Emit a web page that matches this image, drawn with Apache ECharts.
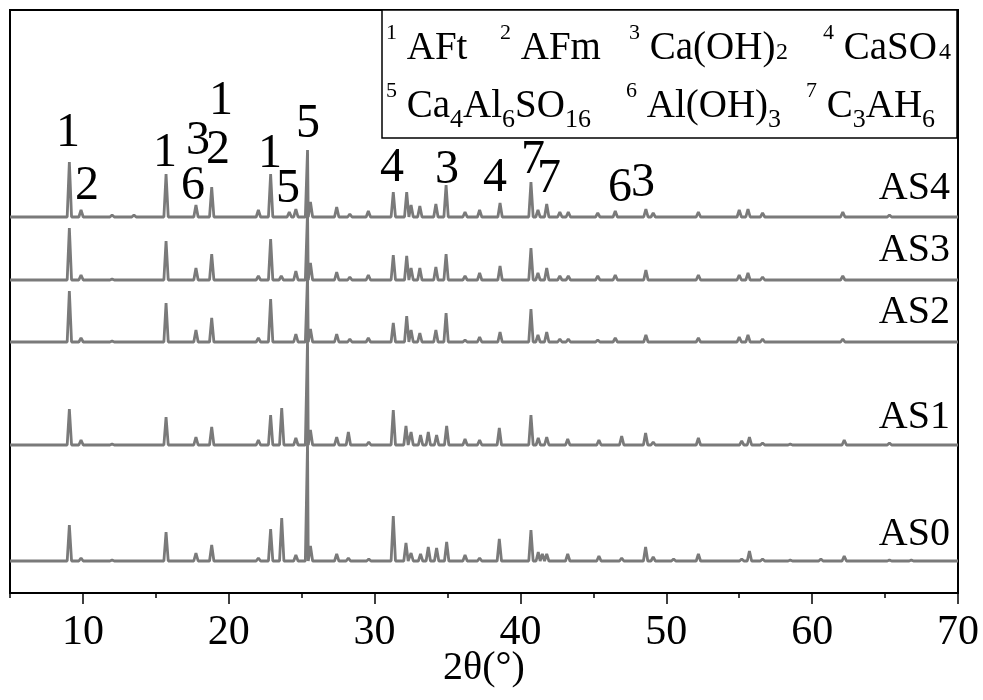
<!DOCTYPE html>
<html><head><meta charset="utf-8">
<script src="https://cdn.jsdelivr.net/npm/echarts@6/dist/echarts.min.js"></script>
<style>html,body{margin:0;padding:0;background:#fff}#c{width:983px;height:700px}</style>
</head><body><div id="c"></div>
<script>
// ---- data ----
const sampleNames = ['AS0', 'AS1', 'AS2', 'AS3', 'AS4'];
// vertical stacking offset of each pattern (a.u.)
const baselineOffsets = [32, 148, 251, 313, 376];
// [2θ (°), intensity above own baseline (a.u.)]
const peaksAS0 = [[9.07,36],[9.87,3],[12.0,1],[15.7,29],[17.75,8],[18.83,16],[22.03,3],[22.87,32],[23.63,43],[24.6,6],[25.4,118],[25.6,15],[27.4,7],[28.2,3],[29.6,2],[31.28,45],[32.15,18],[32.5,8],[33.15,7],[33.68,14],[34.25,13],[34.94,19],[36.2,6],[37.2,3],[38.55,22],[40.72,31],[41.22,9],[41.5,7],[41.8,7],[43.24,7],[45.38,5],[46.94,3],[48.58,14],[49.1,4],[50.5,2],[52.2,7],[55.17,2],[55.7,10],[56.6,2],[58.5,1],[60.6,2],[62.2,5],[65.3,1],[66.8,1]];
const peaksAS1 = [[9.07,36],[9.87,5],[12.0,1],[15.7,28],[17.75,8],[18.83,18],[22.03,5],[22.87,30],[23.63,37],[24.6,7],[25.4,105],[25.6,15],[27.4,8],[28.2,13],[29.6,3],[31.28,35],[32.15,19],[32.5,13],[33.15,10],[33.68,13],[34.25,10],[34.94,19],[36.2,6],[37.2,5],[38.55,17],[40.72,30],[41.22,7],[41.8,8],[43.24,6],[45.38,5],[46.94,9],[48.58,12],[49.1,3],[52.2,7],[55.17,4],[55.7,8],[56.6,2],[58.5,1],[62.2,5],[65.3,2]];
const peaksAS2 = [[9.07,51],[9.87,4],[12.0,1],[15.7,39],[17.75,12],[18.83,24],[22.03,4],[22.87,43],[24.6,8],[25.4,66],[25.6,13],[27.4,8],[28.3,3],[29.57,4],[31.28,19],[32.2,26],[32.5,12],[33.1,9],[34.2,12],[34.9,29],[36.2,2],[37.2,5],[38.6,10],[40.72,33],[41.2,7],[41.8,10],[42.7,3],[43.28,3],[45.3,2],[46.5,4],[48.6,7],[52.2,4],[55.0,5],[55.6,7],[56.6,3],[62.1,3]];
const peaksAS3 = [[9.07,52],[9.87,5],[12.0,1],[15.7,39],[17.75,12],[18.83,26],[22.03,4],[22.87,41],[23.6,4],[24.6,9],[25.4,68],[25.6,17],[27.4,8],[28.3,3],[29.57,5],[31.28,25],[32.2,24],[32.5,12],[33.1,12],[34.2,13],[34.9,26],[36.2,4],[37.2,7],[38.6,14],[40.72,32],[41.2,7],[41.8,12],[42.7,4],[43.28,4],[45.3,4],[46.5,5],[48.6,10],[52.2,5],[55.0,5],[55.6,7],[56.6,3],[62.1,4]];
const peaksAS4 = [[9.07,55],[9.87,7],[12.0,2],[13.5,2],[15.7,43],[17.75,12],[18.83,30],[22.03,7],[22.87,43],[24.15,5],[24.6,8],[25.4,67],[25.6,15],[27.4,10],[28.3,3],[29.57,6],[31.28,25],[32.2,25],[32.5,12],[33.1,11],[34.2,13],[34.9,32],[36.2,5],[37.2,7],[38.6,14],[40.72,35],[41.2,7],[41.8,13],[42.7,5],[43.28,5],[45.3,4],[46.5,6],[48.6,8],[49.1,4],[52.2,5],[55.0,7],[55.6,8],[56.6,4],[62.1,5],[65.3,2]];
const allPeaks = [peaksAS0, peaksAS1, peaksAS2, peaksAS3, peaksAS4];
// phase labels above peaks: [2θ, y (a.u.), text]
const peakLabels = [[8.98,460,'1'],[10.28,407,'2'],[15.63,440,'1'],[17.89,452,'3'],[19.26,443,'2'],[17.55,407,'6'],[19.47,492,'1'],[22.83,439,'1'],[24.06,404,'5'],[25.43,469,'5'],[31.19,425,'4'],[34.96,423,'3'],[38.25,415,'4'],[40.86,433,'7'],[41.96,414,'7'],[46.82,405,'6'],[48.40,410,'3']];
// sample name label height (a.u.)
const sampleLabelY = [59, 176, 281, 343, 405];
const xTickLabels = [10, 20, 30, 40, 50, 60, 70];

// ---- build ----
const FONT = "'Liberation Serif','Times New Roman','DejaVu Serif',serif";
const HW = 0.15;
function trace(peaks, off) {
  const pts = [[5, off]];
  peaks.forEach(([p, h]) => { pts.push([p - HW, off], [p, off + h], [p + HW, off]); });
  pts.push([70, off]);
  pts.sort((a, b) => a[0] - b[0]);
  return pts;
}
const series = sampleNames.map((n, i) => ({
  name: n, type: 'line', xAxisIndex: 0, yAxisIndex: 0,
  data: trace(allPeaks[i], baselineOffsets[i]),
  showSymbol: false, symbol: 'none', smooth: false,
  lineStyle: { color: '#7a7a7a', width: 2.8 }, silent: true
}));
const labelBase = { show: true, fontFamily: FONT, color: '#000', textBorderWidth: 0, textShadowBlur: 0, opacity: 1, formatter: '{b}' };
series.push({
  type: 'scatter', xAxisIndex: 0, yAxisIndex: 0, symbolSize: 2,
  itemStyle: { color: 'rgba(0,0,0,0)' }, silent: true, z: 5,
  data: peakLabels.map(d => ({ name: d[2], value: [d[0], d[1]] })),
  label: Object.assign({}, labelBase, { position: 'inside', fontSize: 48 })
});
series.push({
  type: 'scatter', xAxisIndex: 0, yAxisIndex: 0, symbolSize: 2,
  itemStyle: { color: 'rgba(0,0,0,0)' }, silent: true, z: 5,
  data: sampleNames.map((n, i) => ({ name: n, value: [70, sampleLabelY[i]] })),
  label: Object.assign({}, labelBase, { position: 'left', distance: 7, fontSize: 40 })
});

const rich = {
  m: { fontFamily: FONT, fontSize: 39, lineHeight: 53, color: '#000' },
  sup: { fontFamily: FONT, fontSize: 22, lineHeight: 22, verticalAlign: 'top', color: '#000' },
  sub: { fontFamily: FONT, fontSize: 26, lineHeight: 21, verticalAlign: 'bottom', color: '#000' }
};
const legendItems = [
  [386, 49, '{sup|1}{m| AFt}'],
  [500, 49, '{sup|2}{m| AFm}'],
  [629, 49, '{sup|3}{m| Ca(OH)}'],
  [823, 49, '{sup|4}{m| CaSO}'],
  [386, 107, '{sup|5}{m| Ca}{sub|4}{m|Al}{sub|6}{m|SO}{sub|16}'],
  [626, 107, '{sup|6}{m| Al(OH)}{sub|3}'],
  [806, 107, '{sup|7}{m| C}{sub|3}{m|AH}{sub|6}']
];
// small on-baseline digits in the first legend row
const legendSmall = [[776, 65, '2'], [939, 65, '4']];
const graphic = [{
  type: 'rect', shape: { x: 382, y: 10, width: 575, height: 128 },
  style: { fill: '#fff', stroke: '#000', lineWidth: 1.5 }, z: 10
}].concat(legendItems.map(([x, y, t]) => ({
  type: 'text', x: x, y: y, z: 11,
  style: { text: t, rich: rich, align: 'left', verticalAlign: 'middle' }
}))).concat(legendSmall.map(([x, y, t]) => ({
  type: 'text', x: x, y: y, z: 11,
  style: { text: t, fontFamily: FONT, fontSize: 24, fill: '#000', align: 'left', verticalAlign: 'bottom' }
})));

const chart = echarts.init(document.getElementById('c'), null, { renderer: 'canvas' });
chart.setOption({
  animation: false,
  backgroundColor: '#fff',
  grid: [
    { left: 10, right: 25, top: 10, bottom: 107, show: true, borderColor: '#000', borderWidth: 2,
      backgroundColor: 'transparent', containLabel: false, outerBoundsMode: 'none' },
    { left: 10 + 5 * 948 / 65, right: 25, top: 10, bottom: 107, show: false,
      containLabel: false, outerBoundsMode: 'none' }
  ],
  xAxis: [
    { gridIndex: 0, type: 'value', min: 5, max: 70, interval: 5,
      axisLine: { show: true, lineStyle: { color: '#000', width: 2 } },
      axisTick: { show: true, length: 5, lineStyle: { color: '#000', width: 1.5 } },
      axisLabel: { show: false }, splitLine: { show: false },
      name: '2θ(°)', nameLocation: 'middle', nameGap: 55,
      nameTextStyle: { fontFamily: FONT, fontSize: 40, color: '#000' } },
    { gridIndex: 1, type: 'value', min: 10, max: 70, interval: 10,
      axisLine: { show: false },
      axisTick: { show: true, length: 11, lineStyle: { color: '#000', width: 1.5 } },
      axisLabel: { show: true, margin: 19, fontFamily: FONT, fontSize: 42, color: '#000' },
      splitLine: { show: false } }
  ],
  yAxis: [
    { gridIndex: 0, type: 'value', min: 0, max: 583, show: false, splitLine: { show: false } },
    { gridIndex: 1, type: 'value', min: 0, max: 583, show: false, splitLine: { show: false } }
  ],
  series: series,
  graphic: graphic
});
</script></body></html>
